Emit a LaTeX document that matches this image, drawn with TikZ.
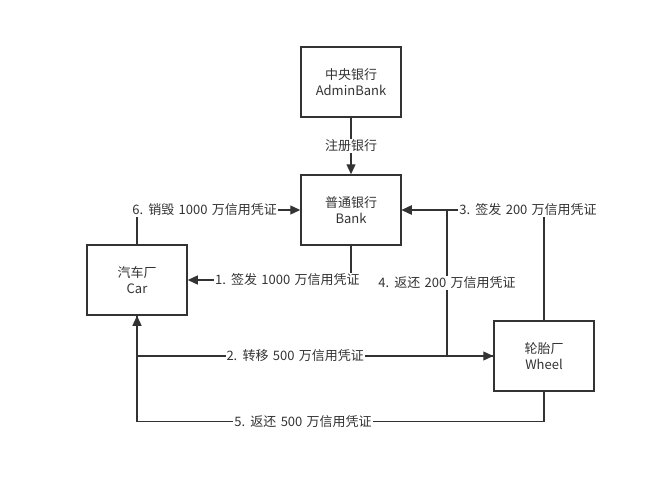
\documentclass[tikz,border=0pt]{standalone}
\usepackage{fontspec}
\setmainfont{Noto Sans CJK SC}
\usetikzlibrary{arrows.meta}
\definecolor{ink}{HTML}{333333}
\newcommand{\lblfont}{\fontsize{13}{15}\selectfont\spaceskip=0.33em\relax}

\begin{document}
\begin{tikzpicture}[x=1pt, y=-1pt,
    box/.style={draw=ink, line width=1.5pt, minimum width=100pt, minimum height=70pt, align=center, text=ink, font=\fontsize{13}{16}\selectfont},
    link/.style={draw=ink, line width=1.3pt, -{Triangle[length=10pt,width=9pt]}},
    lbl/.style={fill=white, text=ink, inner sep=1pt, font=\lblfont}]
    \useasboundingbox (0,0) rectangle (655,479);

    \node[box] (central) at (351, 82) {中央银行\\AdminBank};
    \node[box] (bank) at (351, 210) {普通银行\\Bank};
    \node[box] (car) at (137, 280) {汽车厂\\Car};
    \node[box] (wheel) at (544, 356) {轮胎厂\\Wheel};
    \coordinate (split) at (447, 210);

    \draw[link] (central) -- node[lbl] {注册银行} (bank);
    \draw[link] (bank.south) |- node[lbl, pos=0.695] {1. 签发 1000 万信用凭证} (car.east);
    \draw[link] (car.south) |- node[lbl, pos=0.722] {2. 转移 500 万信用凭证} (wheel.west);
    \draw[link] (wheel.north) |- node[lbl, pos=0.556] {3. 签发 200 万信用凭证} (bank.east);
    \draw[link] (wheel.west) -| node[lbl, pos=0.75] {4. 返还 200 万信用凭证} (split) -- (bank.east);
    \draw[link] (wheel.south) -- ++(0, 30) -| node[lbl, pos=0.296] {5. 返还 500 万信用凭证} (car.south);
    \draw[link] (car.north) |- node[lbl, pos=0.707] {6. 销毁 1000 万信用凭证} (bank.west);
\end{tikzpicture}
\end{document}
